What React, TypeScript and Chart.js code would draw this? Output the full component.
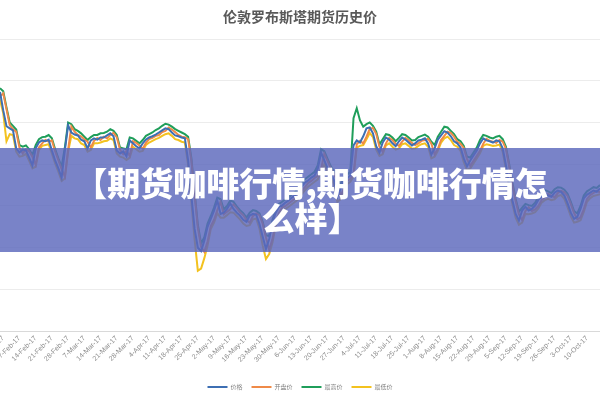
import React, { useEffect, useRef } from "react";
import { Chart, registerables } from "chart.js";

Chart.register(...registerables);

const chartTitle = "伦敦罗布斯塔期货历史价";
const bannerLine1 = "【期货咖啡行情,期货咖啡行情怎";
const bannerLine2 = "么样】";

const seriesNames = ["价格", "开盘价", "最高价", "最低价"];

const tickLabels = [
  "31-Jan-17", "7-Feb-17", "14-Feb-17", "21-Feb-17", "28-Feb-17", "7-Mar-17",
  "14-Mar-17", "21-Mar-17", "28-Mar-17", "4-Apr-17", "11-Apr-17", "18-Apr-17",
  "25-Apr-17", "2-May-17", "9-May-17", "16-May-17", "23-May-17", "30-May-17",
  "6-Jun-17", "13-Jun-17", "20-Jun-17", "27-Jun-17", "4-Jul-17", "11-Jul-17",
  "18-Jul-17", "25-Jul-17", "1-Aug-17", "8-Aug-17", "15-Aug-17", "22-Aug-17",
  "29-Aug-17", "5-Sep-17", "12-Sep-17", "19-Sep-17", "26-Sep-17", "3-Oct-17",
  "10-Oct-17",
];
// trading-day index of each weekly tick label
const tickDays = [
  1, 6, 11, 16, 21, 26, 31, 36, 41, 46, 51, 56, 61, 66, 71, 76, 81, 86, 91, 96,
  101, 106, 111, 116, 121, 126, 131, 136, 141, 146, 151, 156, 161, 166, 171, 176, 181,
];

const price = [
  2273, 2229, 2191, 2186, 2181, 2138, 2128, 2135, 2133, 2116,
  2097, 2138, 2152, 2157, 2155, 2159, 2133, 2109, 2090, 2068,
  2133, 2193, 2176, 2171, 2169, 2159, 2155, 2138, 2157, 2162,
  2159, 2164, 2164, 2169, 2174, 2167, 2133, 2126, 2131, 2119,
  2157, 2150, 2143, 2138, 2150, 2159, 2164, 2167, 2171, 2176,
  2181, 2186, 2184, 2176, 2169, 2167, 2164, 2162, 2109, 2025,
  1945, 1900, 1892, 1917, 1950, 1969, 1989, 2013, 1981, 1984,
  1993, 2006, 1993, 1984, 1977, 1967, 1962, 1977, 1981, 1979,
  1957, 1926, 1897, 1921, 1960, 1984, 1998, 2001, 2008, 2013,
  2020, 2025, 2037, 2046, 2056, 2061, 2068, 2073, 2090, 2128,
  2109, 2090, 2078, 2061, 2022, 2042, 2061, 2066, 2073, 2145,
  2157, 2152, 2167, 2186, 2188, 2174, 2143, 2128, 2152, 2164,
  2159, 2150, 2143, 2155, 2164, 2159, 2152, 2145, 2150, 2157,
  2159, 2162, 2150, 2123, 2138, 2159, 2169, 2179, 2176, 2167,
  2155, 2150, 2140, 2114, 2095, 2109, 2121, 2133, 2150, 2162,
  2157, 2155, 2152, 2157, 2155, 2138, 2097, 2049, 2013, 1981,
  1965, 1989, 1998, 1989, 1993, 2001, 2015, 2022, 2030, 2025,
  2022, 2032, 2037, 2034, 2025, 2006, 1984, 1969, 1974, 1993,
  2018, 2027, 2032, 2037, 2034, 2042,
];

const openPrice = [
  2262, 2270, 2232, 2194, 2184, 2178, 2140, 2126, 2136, 2131,
  2118, 2099, 2140, 2150, 2158, 2154, 2157, 2131, 2110, 2088,
  2070, 2135, 2190, 2178, 2170, 2167, 2160, 2154, 2140, 2156,
  2163, 2158, 2166, 2162, 2170, 2175, 2165, 2135, 2124, 2132,
  2120, 2155, 2151, 2145, 2137, 2151, 2160, 2163, 2168, 2170,
  2177, 2180, 2188, 2183, 2177, 2170, 2166, 2165, 2160, 2110,
  2028, 1948, 1902, 1890, 1915, 1952, 1967, 1990, 2010, 1980,
  1986, 1992, 2004, 1995, 1985, 1978, 1966, 1960, 1976, 1982,
  1978, 1958, 1925, 1895, 1920, 1958, 1983, 1996, 2000, 2006,
  2012, 2018, 2024, 2036, 2045, 2055, 2060, 2067, 2072, 2088,
  2125, 2108, 2090, 2077, 2060, 2024, 2040, 2060, 2065, 2075,
  2148, 2156, 2150, 2166, 2185, 2187, 2173, 2142, 2130, 2150,
  2163, 2158, 2149, 2144, 2154, 2163, 2158, 2151, 2146, 2150,
  2156, 2158, 2161, 2149, 2124, 2137, 2158, 2168, 2178, 2175,
  2166, 2154, 2149, 2139, 2113, 2096, 2108, 2120, 2132, 2149,
  2161, 2156, 2154, 2151, 2158, 2154, 2137, 2096, 2050, 2012,
  1980, 1966, 1988, 1997, 1988, 1992, 2000, 2014, 2021, 2029,
  2024, 2021, 2031, 2036, 2033, 2024, 2005, 1983, 1968, 1973,
  1992, 2017, 2026, 2031, 2036, 2033,
];

const highPrice = [
  2282, 2275, 2236, 2200, 2192, 2183, 2146, 2142, 2145, 2136,
  2122, 2146, 2160, 2165, 2166, 2170, 2162, 2136, 2114, 2094,
  2140, 2200, 2196, 2184, 2180, 2174, 2166, 2158, 2165, 2170,
  2170, 2174, 2175, 2178, 2184, 2180, 2170, 2140, 2138, 2136,
  2164, 2162, 2156, 2150, 2158, 2168, 2172, 2176, 2182, 2186,
  2192, 2197, 2195, 2190, 2184, 2180, 2176, 2172, 2166, 2115,
  2033, 1955, 1910, 1925, 1958, 1976, 1996, 2020, 2016, 1992,
  2000, 2013, 2010, 1999, 1990, 1983, 1972, 1984, 1990, 1988,
  1982, 1962, 1930, 1928, 1966, 1990, 2005, 2010, 2016, 2021,
  2028, 2033, 2045, 2054, 2064, 2070, 2076, 2082, 2098, 2136,
  2131, 2113, 2095, 2082, 2064, 2050, 2068, 2075, 2082, 2210,
  2234, 2205, 2190, 2196, 2200, 2192, 2178, 2147, 2160, 2172,
  2170, 2164, 2155, 2163, 2172, 2170, 2164, 2157, 2158, 2165,
  2168, 2171, 2166, 2154, 2146, 2166, 2178, 2190, 2188, 2180,
  2172, 2160, 2155, 2144, 2118, 2116, 2128, 2140, 2158, 2170,
  2168, 2164, 2162, 2166, 2168, 2160, 2142, 2100, 2055, 2017,
  1986, 1996, 2005, 2002, 2000, 2008, 2022, 2030, 2038, 2035,
  2031, 2040, 2045, 2044, 2039, 2029, 2010, 1988, 1982, 2000,
  2025, 2035, 2040, 2045, 2043, 2050,
];

const lowPrice = [
  2255, 2222, 2155, 2172, 2170, 2130, 2118, 2120, 2125, 2108,
  2090, 2094, 2134, 2144, 2146, 2148, 2126, 2102, 2082, 2060,
  2066, 2130, 2168, 2162, 2160, 2150, 2146, 2130, 2134, 2150,
  2150, 2152, 2155, 2156, 2162, 2158, 2126, 2118, 2116, 2110,
  2116, 2142, 2136, 2130, 2132, 2146, 2152, 2156, 2160, 2163,
  2168, 2172, 2174, 2168, 2160, 2158, 2154, 2152, 2098, 2010,
  1920, 1845, 1850, 1875, 1905, 1945, 1960, 1983, 1972, 1972,
  1978, 1985, 1984, 1976, 1968, 1958, 1952, 1954, 1968, 1970,
  1946, 1905, 1873, 1885, 1912, 1952, 1976, 1988, 1993, 1998,
  2004, 2010, 2016, 2028, 2038, 2046, 2052, 2058, 2064, 2082,
  2100, 2082, 2070, 2052, 2010, 2016, 2034, 2052, 2058, 2070,
  2140, 2144, 2146, 2160, 2175, 2165, 2135, 2120, 2124, 2145,
  2150, 2142, 2135, 2138, 2148, 2150, 2144, 2137, 2138, 2144,
  2148, 2150, 2142, 2114, 2118, 2132, 2152, 2162, 2166, 2158,
  2146, 2142, 2132, 2105, 2086, 2090, 2102, 2114, 2126, 2144,
  2148, 2146, 2144, 2145, 2147, 2130, 2088, 2040, 2004, 1972,
  1955, 1960, 1981, 1980, 1982, 1985, 1994, 2008, 2014, 2017,
  2014, 2016, 2024, 2026, 2017, 1997, 1975, 1960, 1962, 1966,
  1986, 2010, 2019, 2024, 2026, 2028,
];

const seriesValues = [price, openPrice, highPrice, lowPrice];
const seriesColors = ["#3d6fb3", "#ef8a48", "#1f9e5a", "#f3c21f"];

export default function App() {
  const canvasRef = useRef<HTMLCanvasElement | null>(null);

  useEffect(() => {
    if (!canvasRef.current) return;
    const chart = new Chart(canvasRef.current, {
      type: "line",
      data: {
        datasets: seriesNames.map((name, s) => ({
          label: name,
          data: seriesValues[s].map((v, i) => ({ x: i, y: v })),
          borderColor: seriesColors[s],
          backgroundColor: seriesColors[s],
          borderWidth: 2,
          pointRadius: 0,
          pointStyle: "line",
          tension: 0,
          fill: false,
        })),
      },
      options: {
        responsive: false,
        animation: false,
        devicePixelRatio: 1,
        layout: { padding: 0 },
        plugins: {
          title: {
            display: true,
            text: chartTitle,
            color: "#595959",
            font: { family: "'Noto Sans CJK SC'", size: 14, weight: "600" },
            padding: { top: 8.6, bottom: 13.6 },
          },
          legend: {
            display: true,
            position: "bottom",
            labels: {
              usePointStyle: true,
              pointStyle: "line",
              pointStyleWidth: 20,
              boxWidth: 20,
              boxHeight: 6,
              padding: 9,
              color: "#808080",
              font: { family: "'Noto Sans CJK SC'", size: 6 },
            },
          },
          tooltip: { enabled: false },
        },
        scales: {
          x: {
            type: "linear",
            min: 0,
            max: 185,
            grid: { display: false, drawTicks: false },
            border: { display: true, color: "#d9d9d9", width: 1 },
            afterBuildTicks: (scale: any) => {
              scale.ticks = tickDays.map((d) => ({ value: d }));
            },
            afterFit: (scale: any) => {
              scale.paddingLeft = 0;
              scale.paddingRight = 0;
              scale.height = 43.8;
            },
            ticks: {
              autoSkip: false,
              minRotation: 45,
              maxRotation: 45,
              padding: 3,
              color: "#8c8c8c",
              font: { family: "'Liberation Sans'", size: 7 },
              callback: (_v: any, index: number) => tickLabels[index] ?? "",
            },
          },
          y: {
            min: 1700,
            max: 2400,
            grid: { color: "#ececec", drawTicks: false },
            border: { display: false },
            ticks: { display: false, stepSize: 100 },
          },
        },
      },
    });
    return () => chart.destroy();
  }, []);

  return (
    <div style={{ position: "absolute", left: 0, top: 0, width: 600, height: 400, background: "#fff", overflow: "hidden" }}>
      <canvas ref={canvasRef} width={600} height={400} style={{ position: "absolute", left: 0, top: 0, width: 600, height: 400 }} />
      <div
        style={{
          position: "absolute",
          left: 0,
          top: 148,
          width: 600,
          height: 104,
          background: "rgba(92,104,188,0.82)",
        }}
      >
        <div
          style={{
            marginTop: 17,
            paddingLeft: 22,
            textAlign: "center",
            color: "#ffffff",
            fontFamily: "'Noto Sans CJK SC', sans-serif",
            fontWeight: 900,
            fontSize: 33,
            lineHeight: "35px",
            whiteSpace: "nowrap",
          }}
        >
          {bannerLine1}
          <br />
          {bannerLine2}
        </div>
      </div>
    </div>
  );
}
